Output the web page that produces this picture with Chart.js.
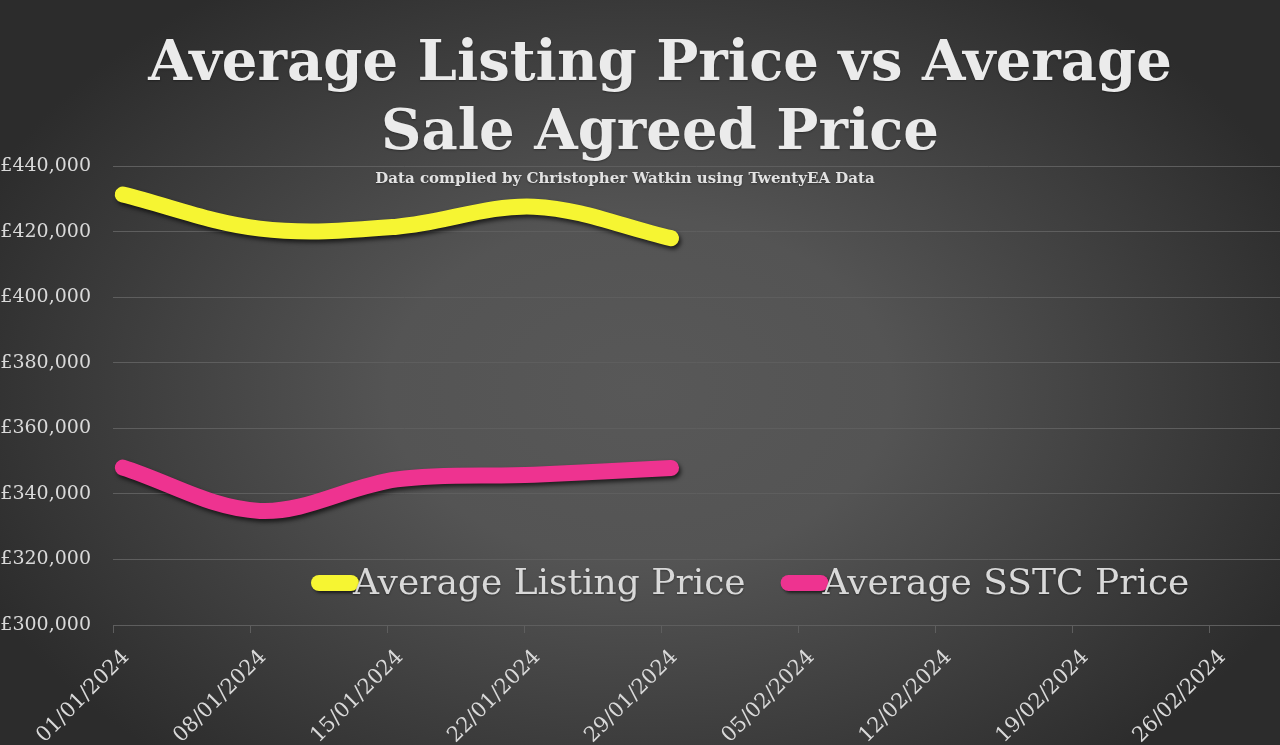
<!DOCTYPE html>
<html>
<head>
<meta charset="utf-8">
<title>Average Listing Price vs Average Sale Agreed Price</title>
<script src="https://cdn.jsdelivr.net/npm/chart.js@4.4.1/dist/chart.umd.min.js"></script>
<style>
  html, body { margin: 0; padding: 0; background: #2e2e2e; overflow: hidden; }
  #wrap { width: 1280px; height: 745px; position: relative; }
</style>
</head>
<body>
<div id="wrap"><canvas id="priceChart"></canvas></div>
<script>
// weekly dates on the x axis
const tickLabels = ['01/01/2024', '08/01/2024', '15/01/2024', '22/01/2024', '29/01/2024',
  '05/02/2024', '12/02/2024', '19/02/2024', '26/02/2024'];
// dates that have data so far
const dates = ['01/01/2024', '08/01/2024', '15/01/2024', '22/01/2024', '29/01/2024'];
const listingPrice = [431300, 420900, 421500, 427600, 418000];
const sstcPrice = [348000, 334800, 344400, 345800, 347900];
const yTicks = [300000, 320000, 340000, 360000, 380000, 400000, 420000, 440000];

const titleLines = ['Average Listing Price vs Average', 'Sale Agreed Price'];
const subtitle = 'Data complied by Christopher Watkin using TwentyEA Data';

const DAYS_PER_TICK = 7;
// points sit at midday of each snapshot date
const dayOf = d => tickLabels.indexOf(d) * DAYS_PER_TICK + 0.5;

const gridCol = '#5e5e5e';
const textCol = '#d9d9d9';
const serif = '"DejaVu Serif", "Liberation Serif", serif';

// dark elliptical backdrop
const backdrop = {
  id: 'backdrop',
  beforeDraw(chart) {
    const { ctx, width, height } = chart;
    ctx.save();
    ctx.fillStyle = '#2c2c2c';
    ctx.fillRect(0, 0, width, height);
    ctx.translate(640, 390);
    ctx.scale(1, 0.68);
    const g = ctx.createRadialGradient(0, 0, 0, 0, 0, 720);
    g.addColorStop(0, '#585858');
    g.addColorStop(0.35, '#545454');
    g.addColorStop(1, '#2c2c2c');
    ctx.fillStyle = g;
    ctx.fillRect(-800, -800, 1600, 1600);
    ctx.restore();
  }
};

// drop shadow under the thick lines
const lineShadow = {
  id: 'lineShadow',
  beforeDatasetDraw(chart) {
    const ctx = chart.ctx;
    ctx.save();
    ctx.shadowColor = 'rgba(0,0,0,0.65)';
    ctx.shadowBlur = 4;
    ctx.shadowOffsetX = 2;
    ctx.shadowOffsetY = 3;
  },
  afterDatasetDraw(chart) {
    chart.ctx.restore();
  }
};

// title, subtitle and the in-plot legend
const labels = {
  id: 'labels',
  afterDraw(chart) {
    const { ctx, chartArea } = chart;
    ctx.save();
    ctx.textAlign = 'center';
    ctx.textBaseline = 'alphabetic';
    ctx.shadowColor = 'rgba(0,0,0,0.35)';
    ctx.shadowBlur = 2;
    ctx.shadowOffsetY = 1;
    ctx.fillStyle = '#ebebeb';
    ctx.font = 'bold 56px ' + serif;
    ctx.fillText(titleLines[0], 660, 80);
    ctx.fillText(titleLines[1], 660, 149);
    ctx.font = 'bold 15px ' + serif;
    ctx.fillStyle = '#e2e2e2';
    ctx.fillText(subtitle, 625, 183);

    // legend
    ctx.textAlign = 'left';
    ctx.font = '36px ' + serif;
    let x = chartArea.left + 198;
    const y = chartArea.bottom - 42;
    chart.data.datasets.forEach(ds => {
      ctx.save();
      ctx.shadowColor = 'rgba(0,0,0,0.6)';
      ctx.shadowBlur = 3;
      ctx.shadowOffsetX = 2;
      ctx.shadowOffsetY = 2;
      ctx.strokeStyle = ds.borderColor;
      ctx.lineWidth = 16;
      ctx.lineCap = 'round';
      ctx.beginPath();
      ctx.moveTo(x + 8, y);
      ctx.lineTo(x + 40, y);
      ctx.stroke();
      ctx.restore();
      ctx.fillStyle = textCol;
      ctx.textBaseline = 'middle';
      ctx.fillText(ds.label, x + 42, y + 2);
      x += 42 + ctx.measureText(ds.label).width + 35;
    });
    ctx.restore();
  }
};

new Chart(document.getElementById('priceChart'), {
  type: 'line',
  data: {
    datasets: [
      {
        label: 'Average Listing Price',
        data: dates.map((d, i) => ({ x: dayOf(d), y: listingPrice[i] })),
        borderColor: '#f6f532'
      },
      {
        label: 'Average SSTC Price',
        data: dates.map((d, i) => ({ x: dayOf(d), y: sstcPrice[i] })),
        borderColor: '#ee3390'
      }
    ]
  },
  options: {
    responsive: true,
    maintainAspectRatio: false,
    animation: false,
    layout: { padding: { top: 166, left: 0, right: 0, bottom: 0 } },
    elements: {
      line: {
        borderWidth: 16,
        tension: 0.35,
        borderCapStyle: 'round',
        borderJoinStyle: 'round',
        fill: false
      },
      point: { radius: 0, hoverRadius: 0 }
    },
    datasets: { line: { clip: false } },
    plugins: {
      legend: { display: false },
      title: { display: false },
      tooltip: { enabled: false }
    },
    scales: {
      x: {
        type: 'linear',
        min: 0,
        max: 59.6,
        grid: { drawOnChartArea: false, drawTicks: true, tickLength: 8, color: gridCol },
        border: { display: true, color: gridCol },
        ticks: {
          stepSize: DAYS_PER_TICK,
          includeBounds: false,
          autoSkip: false,
          maxRotation: 45,
          minRotation: 45,
          labelOffset: 13,
          padding: 12,
          color: textCol,
          font: { family: serif, size: 21 },
          callback: v => tickLabels[Math.round(v / DAYS_PER_TICK)] || ''
        },
        afterFit(scale) { scale.height = 120; }
      },
      y: {
        min: 300000,
        max: 440000,
        grid: { color: gridCol, drawTicks: false },
        border: { display: false },
        ticks: {
          padding: 22,
          color: textCol,
          font: { family: serif, size: 19 },
          callback: v => '£' + v.toLocaleString('en-GB')
        },
        afterBuildTicks(scale) { scale.ticks = yTicks.map(v => ({ value: v })); },
        afterFit(scale) { scale.width = 113; }
      }
    }
  },
  plugins: [backdrop, lineShadow, labels]
});
</script>
</body>
</html>
